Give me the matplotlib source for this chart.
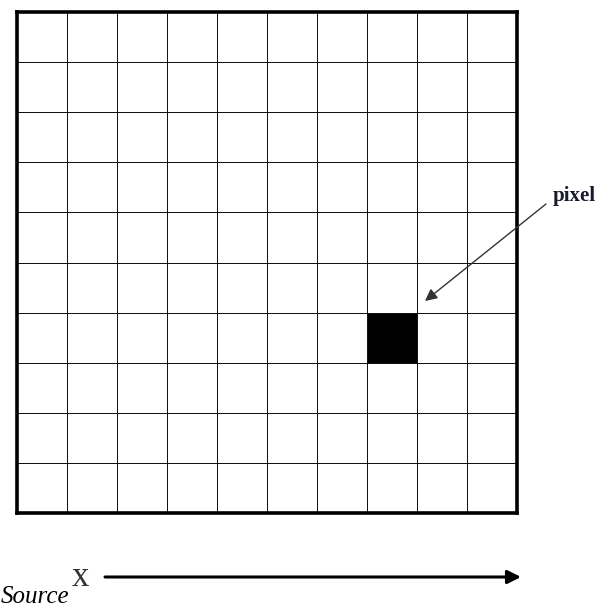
import matplotlib
matplotlib.use("Agg")
import matplotlib.pyplot as plt
import numpy as np

n_rows = 10
n_cols = 10
pixel_row = 6
pixel_col = 7
pixel_label = "pixel"
axis_label = "x"
source_label = "Source"

W, H = 611, 610
fig = plt.figure(figsize=(W / 100, H / 100), dpi=100)

# grid of cells, one filled
cells = np.zeros((n_rows, n_cols))
cells[pixel_row, pixel_col] = 1
gx = fig.add_axes([17 / W, 1 - 513 / H, 500 / W, 501 / H])
gx.pcolormesh(np.arange(n_cols + 1), np.arange(n_rows + 1), cells,
              cmap="Greys", vmin=0, vmax=1, edgecolors="#111111", linewidth=0.6)
gx.set_xlim(0, n_cols)
gx.set_ylim(n_rows, 0)
gx.set_xticks([])
gx.set_yticks([])
for s in gx.spines.values():
    s.set_linewidth(2.6)

# overlay in pixel coords for annotations
ov = fig.add_axes([0, 0, 1, 1], facecolor="none")
ov.set_xlim(0, W)
ov.set_ylim(H, 0)
ov.axis("off")

ov.annotate("", xy=(425, 301), xytext=(546, 204),
            arrowprops=dict(arrowstyle="-|>", color="#333333", lw=1.0,
                            mutation_scale=18, shrinkA=0, shrinkB=0))
ov.text(553, 201, pixel_label, fontsize=15, fontweight="bold",
        family="Liberation Serif", color="#1a1a2e", ha="left", va="baseline")

ov.annotate("", xy=(521, 577), xytext=(105, 577),
            arrowprops=dict(arrowstyle="-|>", color="black", lw=2.2,
                            mutation_scale=20, shrinkA=0, shrinkB=0))
ov.text(80, 578, axis_label, fontsize=25, family="Liberation Serif",
        color="#333333", ha="center", va="center")
ov.text(1, 603, source_label, fontsize=18, style="italic",
        family="Liberation Serif", color="black", ha="left", va="baseline")

fig.savefig("out.png", dpi=100)
